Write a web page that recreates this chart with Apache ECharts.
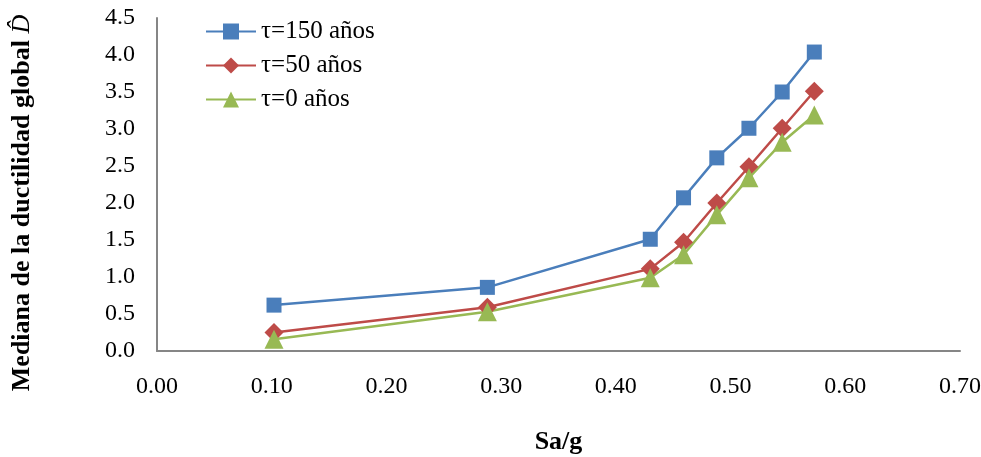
<!DOCTYPE html>
<html><head><meta charset="utf-8">
<script src="https://cdn.jsdelivr.net/npm/echarts@6/dist/echarts.min.js"></script>
<style>html,body{margin:0;padding:0;background:#fff}#c{width:981px;height:457px}</style>
</head><body><div id="c"></div>
<script>
const saG = [0.102, 0.288, 0.430, 0.459, 0.488, 0.516, 0.545, 0.573];
const tau150 = [0.62, 0.86, 1.51, 2.07, 2.61, 3.01, 3.50, 4.04];
const tau50 = [0.25, 0.59, 1.11, 1.47, 2.00, 2.49, 3.01, 3.51];
const tau0 = [0.16, 0.53, 0.99, 1.30, 1.84, 2.34, 2.82, 3.19];
const seriesNames = ['τ=150 años', 'τ=50 años', 'τ=0 años'];

const font = '"Liberation Serif", "Times New Roman", serif';
const pairs = a => saG.map((x, i) => [x, a[i]]);
const chart = echarts.init(document.getElementById('c'));
chart.setOption({
  animation: false,
  textStyle: { fontFamily: font },
  grid: { left: 157, right: 21, top: 18, bottom: 106, outerBoundsMode: 'none', containLabel: false },
  legend: {
    orient: 'vertical', left: 200, top: 14, itemWidth: 50, itemHeight: 20, itemGap: 9,
    textStyle: { fontFamily: font, fontSize: 25, color: '#000' },
    data: seriesNames
  },
  graphic: [{
    type: 'text', rotation: Math.PI / 2,
    x: 22, y: 203,
    style: {
      text: '{t|Mediana de la ductilidad global }{d|D̂}',
      align: 'center', verticalAlign: 'middle',
      rich: { t: { fontFamily: font, fontSize: 26, fontWeight: 'bold', fill: '#000' },
              d: { fontFamily: font, fontSize: 26, fontStyle: 'italic', fill: '#000' } }
    }
  }],
  xAxis: {
    type: 'value', min: 0, max: 0.7, interval: 0.1,
    name: 'Sa/g', nameLocation: 'middle', nameGap: 78,
    nameTextStyle: { fontFamily: font, fontSize: 26, fontWeight: 'bold', color: '#000' },
    axisLine: { lineStyle: { color: '#868686', width: 2 } },
    axisTick: { show: false }, splitLine: { show: false },
    axisLabel: { fontFamily: font, fontSize: 24, color: '#000', margin: 24, formatter: v => v.toFixed(2) }
  },
  yAxis: {
    type: 'value', min: 0, max: 4.5, interval: 0.5,
    axisLine: { show: true, lineStyle: { color: '#868686', width: 2 } },
    axisTick: { show: false }, splitLine: { show: false },
    axisLabel: { fontFamily: font, fontSize: 24, color: '#000', margin: 22, formatter: v => v.toFixed(1) }
  },
  series: [
    { name: seriesNames[0], type: 'line', data: pairs(tau150), symbol: 'rect', symbolSize: 15,
      itemStyle: { color: '#4A7EBB' }, lineStyle: { width: 2.5, color: '#4A7EBB' } },
    { name: seriesNames[1], type: 'line', data: pairs(tau50), symbol: 'diamond', symbolSize: 19,
      itemStyle: { color: '#BE4B48' }, lineStyle: { width: 2.5, color: '#BE4B48' } },
    { name: seriesNames[2], type: 'line', data: pairs(tau0), symbol: 'triangle', symbolSize: 19,
      itemStyle: { color: '#98B954' }, lineStyle: { width: 2.5, color: '#98B954' } }
  ]
});
</script></body></html>
